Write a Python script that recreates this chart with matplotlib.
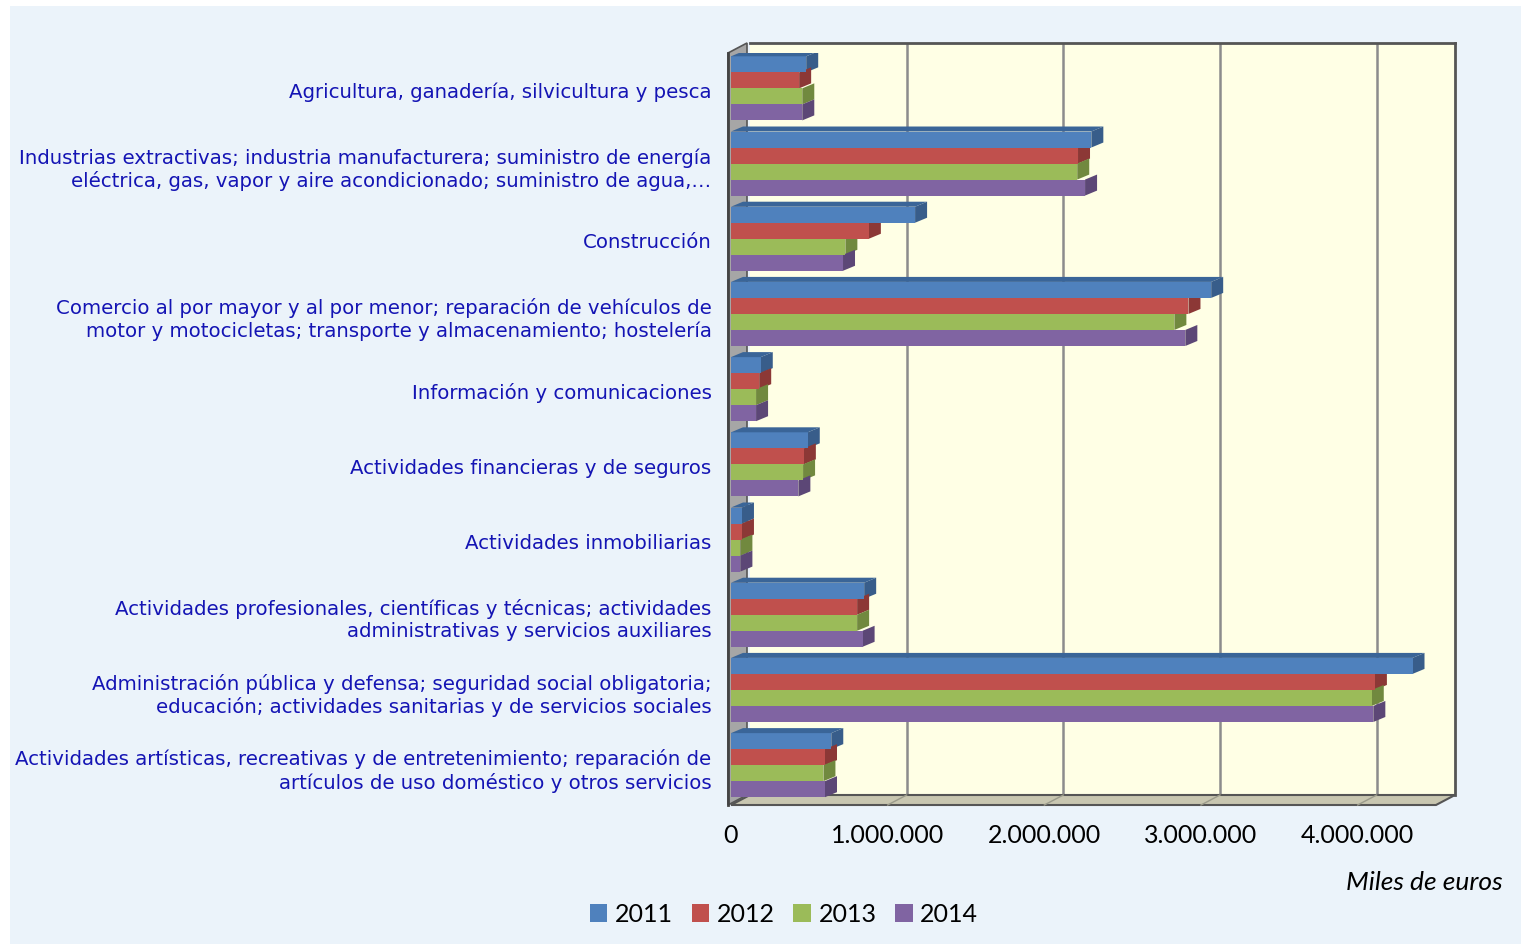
import numpy as np
import matplotlib
matplotlib.use("Agg")
import matplotlib.pyplot as plt
from matplotlib.patches import Polygon, Rectangle

# data (miles de euros)
categories = [
    "Agricultura, ganadería, silvicultura y pesca",
    "Industrias extractivas; industria manufacturera; suministro de energía\neléctrica, gas, vapor y aire acondicionado; suministro de agua,…",
    "Construcción",
    "Comercio al por mayor y al por menor; reparación de vehículos de\nmotor y motocicletas; transporte y almacenamiento; hostelería",
    "Información y comunicaciones",
    "Actividades financieras y de seguros",
    "Actividades inmobiliarias",
    "Actividades profesionales, científicas y técnicas; actividades\nadministrativas y servicios auxiliares",
    "Administración pública y defensa; seguridad social obligatoria;\neducación; actividades sanitarias y de servicios sociales",
    "Actividades artísticas, recreativas y de entretenimiento; reparación de\nartículos de uso doméstico y otros servicios",
]
years = ["2011", "2012", "2013", "2014"]
v2011 = [480000, 2300000, 1175000, 3065000, 190000, 490000, 70000, 850000, 4350000, 640000]
v2012 = [435000, 2215000, 880000, 2920000, 180000, 465000, 70000, 805000, 4110000, 600000]
v2013 = [455000, 2210000, 730000, 2830000, 160000, 460000, 60000, 805000, 4090000, 590000]
v2014 = [455000, 2260000, 715000, 2900000, 160000, 430000, 60000, 840000, 4100000, 600000]
series = [v2011, v2012, v2013, v2014]
x_ticks = [0, 1000000, 2000000, 3000000, 4000000]
x_labels = ["0", "1.000.000", "2.000.000", "3.000.000", "4.000.000"]

front = ['#4F81BD', '#C0504D', '#9BBB59', '#8064A2']
side = ['#385D8A', '#8C3836', '#71893F', '#5C4776']
top_col = '#3A6598'

W, H = 1521, 944
fig = plt.figure(figsize=(W / 100, H / 100), dpi=100)
fig.patch.set_facecolor('white')

def fx(px):
    return px / W

def fy(py):
    return 1 - py / H

# background panel
fig.patches.append(Rectangle((fx(10), 0), 1 - fx(10), fy(6), transform=fig.transFigure,
                             facecolor='#EBF3FA', edgecolor='none', zorder=-5))

# plot geometry in pixels
L, T, R, B = 731, 53, 1436, 805
dx, dy = 19, 10
xmax = 4500000

# back wall
axb = fig.add_axes([fx(L + dx), fy(B - dy), fx(R - L), (B - T) / H], zorder=0)
axb.set_facecolor('#FFFFE5')
axb.set_xlim(0, xmax)
axb.set_ylim(0, 1)
axb.set_xticks(x_ticks[1:])
axb.grid(axis='x', color='#8C8C8C', lw=1.8)
axb.tick_params(length=0, labelbottom=False, labelleft=False)
for s in ['left', 'bottom']:
    axb.spines[s].set_visible(False)
for s in ['top', 'right']:
    axb.spines[s].set_color('#555555')
    axb.spines[s].set_linewidth(2)

# floor and left wall
floor = Polygon([(fx(L), fy(B)), (fx(R), fy(B)), (fx(R + dx), fy(B - dy)), (fx(L + dx), fy(B - dy))],
                closed=True, transform=fig.transFigure, facecolor='#C8C6B0',
                edgecolor='#555555', lw=1.5, zorder=0.5)
fig.patches.append(floor)
wall = Polygon([(fx(L - 3), fy(T)), (fx(L + dx - 3), fy(T - dy)), (fx(L + dx - 3), fy(B - dy)), (fx(L - 3), fy(B))],
               closed=True, transform=fig.transFigure, facecolor='#A6A6A6',
               edgecolor='#555555', lw=1.2, zorder=0.5)
fig.patches.append(wall)
for t in x_ticks[1:]:
    px = L + t / xmax * (R - L)
    fig.lines.append(plt.Line2D([fx(px), fx(px + dx)], [fy(B), fy(B - dy)], transform=fig.transFigure,
                                color='#9A9A8A', lw=1, zorder=0.6))

# main (front) axes
ax = fig.add_axes([fx(L), fy(B), fx(R - L), (B - T) / H], zorder=1)
ax.patch.set_alpha(0)
n = len(categories)
ax.set_xlim(0, xmax)
ax.set_ylim(n - 0.5, -0.5)

bh = 0.213
ddx = 12 * xmax / (R - L)
ddy = 5 * n / (B - T)
y = np.arange(n)

for j, vals in enumerate(series):
    ys = y - 0.03 - 2 * bh + (j + 0.5) * bh
    ax.barh(ys, vals, height=bh, color=front[j], edgecolor='none', zorder=3, label=years[j])
    for yc, v in zip(ys, vals):
        y0, y1 = yc - bh / 2, yc + bh / 2
        ax.add_patch(Polygon([(v, y0), (v + ddx, y0 - ddy), (v + ddx, y1 - ddy), (v, y1)],
                             closed=True, facecolor=side[j], edgecolor='none', zorder=2))
        if j == 0:
            ax.add_patch(Polygon([(0, y0), (ddx, y0 - ddy), (v + ddx, y0 - ddy), (v, y0)],
                                 closed=True, facecolor=top_col, edgecolor='none', zorder=3))

ax.tick_params(axis='x', length=0, pad=14, labelsize=18, labelcolor='black')
ax.tick_params(axis='y', length=0, pad=12, labelsize=14.2, labelcolor='#1414B4')
ax.set_xticks(x_ticks)
ax.set_xticklabels(x_labels)
ax.set_yticks(y)
ax.set_yticklabels(categories)
for lab in ax.get_xticklabels():
    lab.set_fontfamily('Lato')
    lab.set_fontsize(18)
for lab in ax.get_yticklabels():
    lab.set_fontfamily('DejaVu Sans')
    lab.set_fontsize(14.2)
    lab.set_multialignment('center')
    lab.set_linespacing(1.25)
for s in ['top', 'right', 'bottom']:
    ax.spines[s].set_visible(False)
ax.spines['left'].set_color('#444444')
ax.spines['left'].set_linewidth(2)
ax.spines['left'].set_position(('outward', 2))

fig.text(fx(1503), fy(883), "Miles de euros", ha='right', va='center', style='italic',
         fontfamily='Lato', fontsize=19)

fig.legend(loc='center', bbox_to_anchor=(fx(784), fy(914)), ncol=4, frameon=False,
           prop={'family': 'Lato', 'size': 18}, handlelength=0.7, handleheight=0.7,
           handletextpad=0.3, columnspacing=0.75)

fig.savefig('out.png', dpi=100, facecolor='white')
